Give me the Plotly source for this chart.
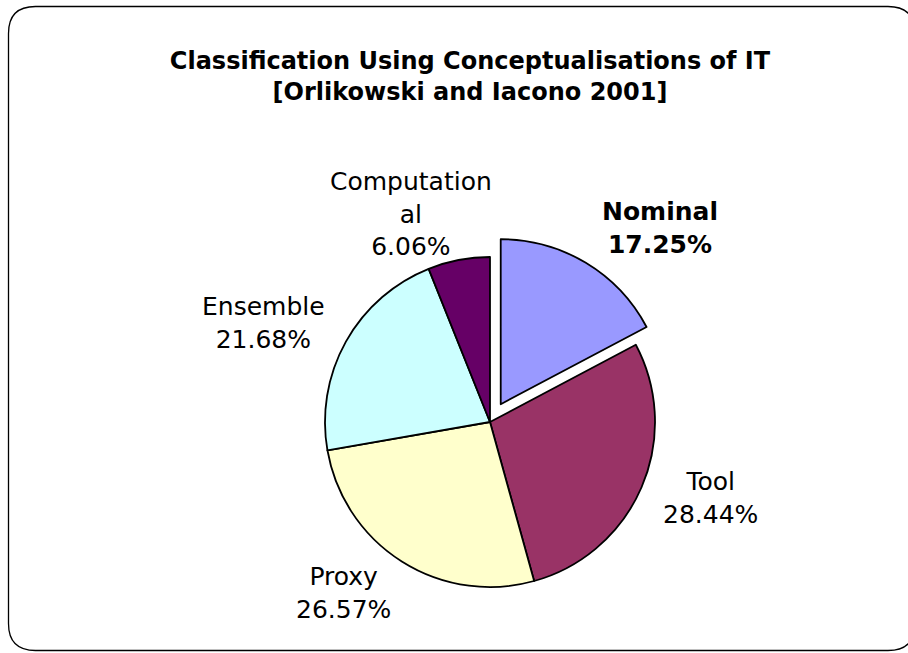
import plotly.graph_objects as go

# ---- data ----
categories = ["Nominal", "Tool", "Proxy", "Ensemble", "Computational"]
display_labels = ["Nominal", "Tool", "Proxy", "Ensemble", "Computation<br>al"]
shares = [17.25, 28.44, 26.57, 21.68, 6.06]
slice_colors = ["#9999FF", "#993366", "#FFFFCC", "#CCFFFF", "#660066"]
pulled = ["Nominal"]
title_lines = ["Classification Using Conceptualisations of IT",
               "[Orlikowski and Iacono 2001]"]

W, H = 908, 653
FONT = "DejaVu Sans"


def px(x):
    return x / W


def py(y):
    return 1 - y / H


fig = go.Figure(
    go.Pie(
        labels=categories,
        values=shares,
        sort=False,
        direction="clockwise",
        rotation=0,
        pull=[0.126 if c in pulled else 0 for c in categories],
        marker=dict(colors=slice_colors, line=dict(color="black", width=1.8)),
        textinfo="none",
        hoverinfo="label+percent",
        domain=dict(x=[px(304.2), px(675.8)], y=[py(607.8), py(236.2)]),
        showlegend=False,
    )
)

# label placement (pixels)
label_pos = {
    "Nominal": (660, 228),
    "Tool": (710, 498),
    "Proxy": (343, 593),
    "Ensemble": (263, 323),
    "Computational": (411, 214),
}

annotations = []
for cat, lab, val in zip(categories, display_labels, shares):
    x, y = label_pos[cat]
    txt = f"{lab}<br>{val:.2f}%"
    if cat in pulled:
        txt = f"<b>{lab}<br>{val:.2f}%</b>"
    annotations.append(dict(
        x=px(x), y=py(y), xref="paper", yref="paper",
        text=txt, showarrow=False, xanchor="center", yanchor="middle",
        align="center", font=dict(family=FONT, size=25, color="black"),
    ))

# rounded frame
L, T, R, B, r = 8.5, 6.5, 915, 650.5, 27
pts = [
    ("M", [(L + r, T)]), ("L", [(R - r, T)]), ("Q", [(R, T), (R, T + r)]),
    ("L", [(R, B - r)]), ("Q", [(R, B), (R - r, B)]), ("L", [(L + r, B)]),
    ("Q", [(L, B), (L, B - r)]), ("L", [(L, T + r)]), ("Q", [(L, T), (L + r, T)]),
]
path = " ".join(cmd + " " + " ".join(f"{px(a):.5f},{py(b):.5f}" for a, b in p) for cmd, p in pts) + " Z"

fig.update_layout(
    width=W, height=H,
    margin=dict(l=0, r=0, t=0, b=0),
    paper_bgcolor="white", plot_bgcolor="white",
    title=dict(
        text="<b>" + "<br>".join(title_lines) + "</b>",
        x=px(470), y=py(69), xanchor="center", yanchor="middle",
        xref="paper", yref="paper",
        font=dict(family=FONT, size=24, color="black"),
    ),
    annotations=annotations,
    shapes=[dict(type="path", path=path, xref="paper", yref="paper",
                 line=dict(color="black", width=1.3), layer="above")],
)

fig.write_html("out.html", config={"displayModeBar": False},
               post_script="document.body.style.margin='0';")
